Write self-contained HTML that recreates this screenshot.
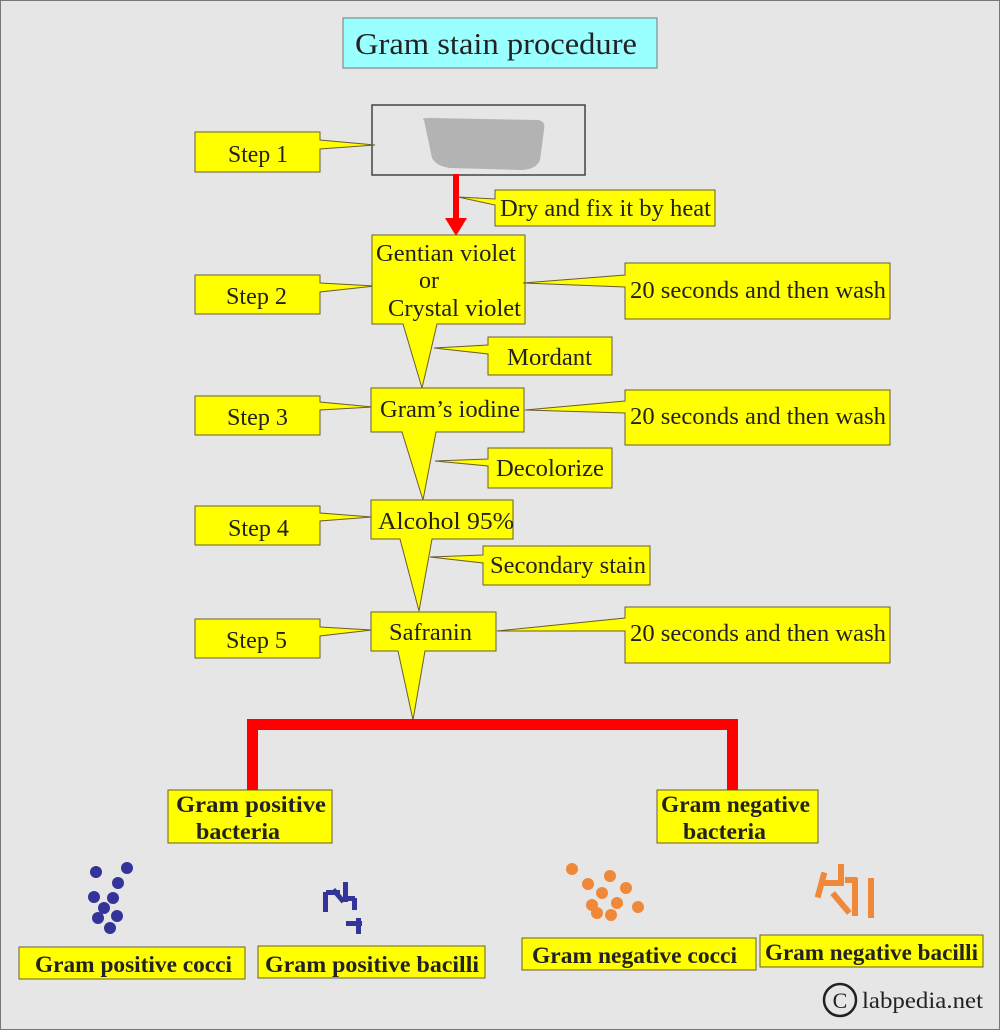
<!DOCTYPE html>
<html><head><meta charset="utf-8"><style>
html,body{margin:0;padding:0;background:#e6e6e6}
svg{display:block}
text{font-family:"Liberation Serif",serif;fill:#222}
</style></head><body>
<svg width="1000" height="1030" viewBox="0 0 1000 1030" xmlns="http://www.w3.org/2000/svg">
<rect x="0.5" y="0.5" width="999" height="1029" fill="#e6e6e6" stroke="#777"/>
<rect x="343" y="18" width="314" height="50" fill="#99ffff" stroke="#777"/>
<text x="355" y="54" font-size="31" textLength="282" lengthAdjust="spacingAndGlyphs">Gram stain procedure</text>
<!-- slide -->
<rect x="372" y="105" width="213" height="70" fill="#e6e6e6" stroke="#444" stroke-width="1.5"/>
<path d="M424 120 Q420 118 430 118 L538 120 Q546 121 544 130 L540 160 Q536 170 520 170 L450 168 Q436 166 432 158 Z" fill="#b3b3b3"/>
<rect x="453" y="174" width="6" height="46" fill="#ff0000"/>
<polygon points="445,218 467,218 456,236" fill="#ff0000"/>
<g stroke="#6b5e2e" stroke-width="1" fill="#ffff00">
<polygon points="195,132 320,132 320,140 375,145 320,149 320,172 195,172"/>
<polygon points="195,275 320,275 320,283 375,286 320,292 320,314 195,314"/>
<polygon points="195,396 320,396 320,402 373,407 320,410 320,435 195,435"/>
<polygon points="195,506 320,506 320,513 372,517 320,521 320,545 195,545"/>
<polygon points="195,619 320,619 320,627 372,630 320,636 320,658 195,658"/>
<polygon points="495,190 715,190 715,226 495,226 495,205 458,197 495,199"/>
<polygon points="372,235 525,235 525,324 437,324 422,388 403,324 372,324"/>
<polygon points="371,388 524,388 524,432 436,432 423,500 402,432 371,432"/>
<polygon points="371,500 513,500 513,539 432,539 419,611 400,539 371,539"/>
<polygon points="371,612 496,612 496,651 425,651 413,720 398,651 371,651"/>
<polygon points="625,263 890,263 890,319 625,319 625,287 523,283 625,275"/>
<polygon points="625,390 890,390 890,445 625,445 625,413 525,410 625,401"/>
<polygon points="625,607 890,607 890,663 625,663 625,631 497,631 625,618"/>
<polygon points="488,337 612,337 612,375 488,375 488,354 434,348 488,345"/>
<polygon points="488,448 612,448 612,488 488,488 488,466 435,461 488,459"/>
<polygon points="483,546 650,546 650,585 483,585 483,563 430,557 483,555"/>
<rect x="168" y="790" width="164" height="53"/>
<rect x="657" y="790" width="161" height="53"/>
<rect x="19" y="947" width="226" height="32"/>
<rect x="258" y="946" width="227" height="32"/>
<rect x="522" y="938" width="234" height="32"/>
<rect x="760" y="935" width="223" height="32"/>
</g>
<path d="M252.5 790 V724.5 H732.5 V790" fill="none" stroke="#ff0000" stroke-width="11"/>
<g font-size="24">
<text x="228" y="162" textLength="60" lengthAdjust="spacingAndGlyphs">Step 1</text>
<text x="226" y="304" textLength="61" lengthAdjust="spacingAndGlyphs">Step 2</text>
<text x="227" y="425" textLength="61" lengthAdjust="spacingAndGlyphs">Step 3</text>
<text x="228" y="536" textLength="61" lengthAdjust="spacingAndGlyphs">Step 4</text>
<text x="226" y="648" textLength="61" lengthAdjust="spacingAndGlyphs">Step 5</text>
<text x="500" y="216" textLength="211" lengthAdjust="spacingAndGlyphs">Dry and fix it by heat</text>
<text x="376" y="261" textLength="140" lengthAdjust="spacingAndGlyphs">Gentian violet</text>
<text x="419" y="288">or</text>
<text x="388" y="316" textLength="133" lengthAdjust="spacingAndGlyphs">Crystal violet</text>
<text x="380" y="417" textLength="140" lengthAdjust="spacingAndGlyphs">Gram’s iodine</text>
<text x="378" y="529" textLength="136" lengthAdjust="spacingAndGlyphs">Alcohol 95%</text>
<text x="389" y="640" textLength="83" lengthAdjust="spacingAndGlyphs">Safranin</text>
<text x="630" y="298" textLength="256" lengthAdjust="spacingAndGlyphs">20 seconds and then wash</text>
<text x="630" y="424" textLength="256" lengthAdjust="spacingAndGlyphs">20 seconds and then wash</text>
<text x="630" y="641" textLength="256" lengthAdjust="spacingAndGlyphs">20 seconds and then wash</text>
<text x="507" y="365" textLength="85" lengthAdjust="spacingAndGlyphs">Mordant</text>
<text x="496" y="476" textLength="108" lengthAdjust="spacingAndGlyphs">Decolorize</text>
<text x="490" y="573" textLength="156" lengthAdjust="spacingAndGlyphs">Secondary stain</text>
</g>
<g font-size="23" font-weight="bold">
<text x="176" y="812" textLength="150" lengthAdjust="spacingAndGlyphs">Gram positive</text>
<text x="196" y="839" textLength="84" lengthAdjust="spacingAndGlyphs">bacteria</text>
<text x="661" y="812" textLength="149" lengthAdjust="spacingAndGlyphs">Gram negative</text>
<text x="683" y="839" textLength="83" lengthAdjust="spacingAndGlyphs">bacteria</text>
<text x="35" y="972" textLength="197" lengthAdjust="spacingAndGlyphs">Gram positive cocci</text>
<text x="265" y="972" textLength="214" lengthAdjust="spacingAndGlyphs">Gram positive bacilli</text>
<text x="532" y="963" textLength="205" lengthAdjust="spacingAndGlyphs">Gram negative cocci</text>
<text x="765" y="960" textLength="213" lengthAdjust="spacingAndGlyphs">Gram negative bacilli</text>
</g>
<g fill="#333399">
<circle cx="127" cy="868" r="6"/><circle cx="96" cy="872" r="6"/><circle cx="118" cy="883" r="6"/>
<circle cx="113" cy="898" r="6"/><circle cx="94" cy="897" r="6"/><circle cx="104" cy="908" r="6"/>
<circle cx="117" cy="916" r="6"/><circle cx="98" cy="918" r="6"/><circle cx="110" cy="928" r="6"/>
</g>
<g fill="#333399">
<rect x="323" y="892" width="5" height="20"/><rect x="326" y="890" width="14" height="5"/>
<rect x="336" y="888" width="5" height="16" transform="rotate(-40 338 896)"/>
<rect x="343" y="882" width="5" height="20"/><rect x="343" y="896" width="12" height="5"/>
<rect x="352" y="898" width="5" height="12"/><rect x="356" y="918" width="5" height="16"/>
<rect x="346" y="921" width="16" height="5"/>
</g>
<g fill="#f0883a">
<circle cx="572" cy="869" r="6"/><circle cx="610" cy="876" r="6"/><circle cx="588" cy="884" r="6"/>
<circle cx="626" cy="888" r="6"/><circle cx="602" cy="893" r="6"/><circle cx="592" cy="905" r="6"/>
<circle cx="617" cy="903" r="6"/><circle cx="638" cy="907" r="6"/><circle cx="611" cy="915" r="6"/>
<circle cx="597" cy="913" r="6"/>
</g>
<g fill="#f0883a">
<rect x="818" y="872" width="6" height="26" transform="rotate(15 821 885)"/>
<rect x="821" y="880" width="22" height="6"/>
<rect x="838" y="864" width="6" height="22"/>
<rect x="845" y="877" width="12" height="6"/>
<rect x="852" y="878" width="6" height="38"/>
<rect x="838" y="890" width="6" height="26" transform="rotate(-40 841 903)"/>
<rect x="868" y="878" width="6" height="40"/>
</g>
<circle cx="840" cy="1000" r="16" fill="none" stroke="#222" stroke-width="2.5"/>
<text x="840" y="1008" font-size="22" text-anchor="middle">C</text>
<text x="862" y="1008" font-size="23" textLength="121" lengthAdjust="spacingAndGlyphs">labpedia.net</text>
</svg>
</body></html>
